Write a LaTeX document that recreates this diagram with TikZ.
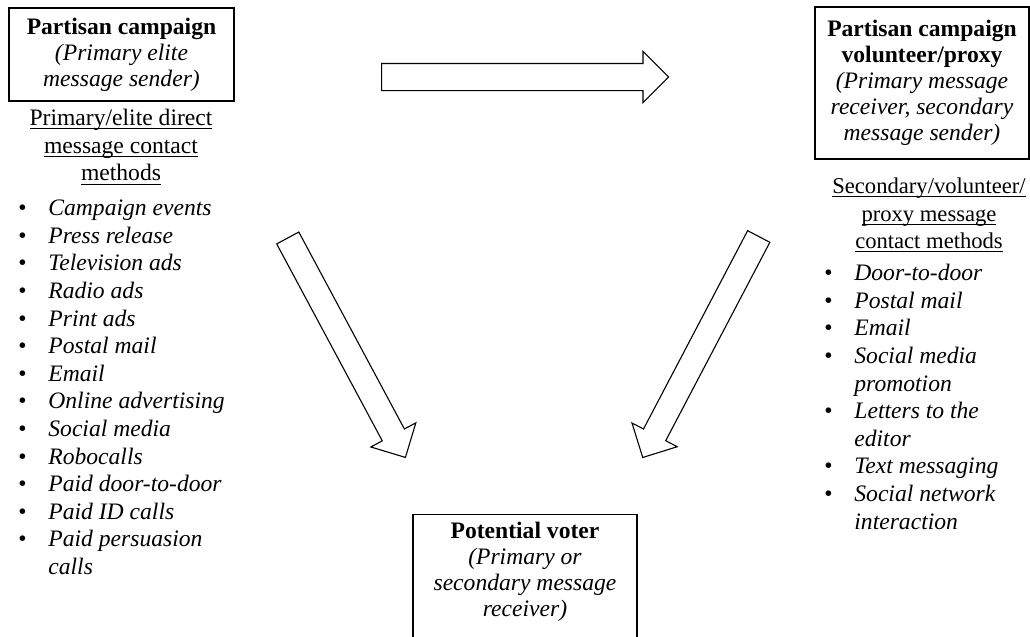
\documentclass[tikz,border=0pt]{standalone}
\usepackage{fontspec}
\setmainfont{Liberation Serif}
\usetikzlibrary{shapes.arrows}
\tikzset{
  actor/.style = {draw, line width=0.55pt, align=center, inner sep=2pt,
                  font=\fontsize{11.8}{13}\selectfont},
  mhead/.style = {align=center, inner sep=0pt, font=\fontsize{11.8}{13.8}\selectfont},
  mlist/.style = {anchor=north west, inner sep=0pt, font=\fontsize{11.8}{13.8}\selectfont},
  blkar/.style = {single arrow, draw, line width=0.55pt, inner xsep=0pt, inner ysep=6.5pt,
                  minimum width=25pt, single arrow head extend=6pt, anchor=tail}
}
\newcommand{\uln}[1]{\setbox0\hbox{#1}\rlap{\rule[-1.8pt]{\wd0}{0.5pt}}\box0}
\newcommand{\itm}[1]{\textbullet & \textit{#1}\\}
\newcommand{\more}[1]{& \textit{#1}\\}

\begin{document}
\begin{tikzpicture}[x=0.5pt, y=-0.5pt]
\useasboundingbox (0,0) rectangle (1030,637);

% senders and receiver
\node[actor, minimum width=112.5pt, minimum height=46.5pt] (campaign) at (121.5,54.5)
      {\textbf{Partisan campaign}\\ \textit{(Primary elite}\\ \textit{message sender)}};
\node[actor, minimum width=107pt, minimum height=76pt] (proxy) at (922,83)
      {\textbf{Partisan campaign}\\ \textbf{volunteer/proxy}\\ \textit{(Primary message}\\
       \textit{receiver, secondary}\\ \textit{message sender)}};
\node[actor, anchor=north, minimum width=112pt, inner ysep=4pt] (voter) at (525,514)
      {\textbf{Potential voter}\\ \textit{(Primary or}\\ \textit{secondary message}\\
       \textit{receiver)}\\[40pt]\mbox{}};

% message flows
\node[blkar, minimum height=143.5pt] (toproxy) at (381,77) {};
\node[blkar, inner ysep=6pt, single arrow head extend=6.5pt, minimum height=124.5pt,
      rotate=-61.8] (elitevoter) at (287.5,237.5) {};
\node[blkar, inner ysep=6pt, single arrow head extend=6.5pt, minimum height=124.8pt,
      rotate=-117.7] (proxyvoter) at (759,236) {};

% contact methods
\node[mhead] (elitehead) at (121,147)
      {\uln{Primary/elite direct}\\ \uln{message contact}\\ \uln{methods}};
\node[mlist] (elitelist) at (18,196)
      {\begin{tabular}{@{}p{15pt}@{}l@{}}
       \itm{Campaign events} \itm{Press release} \itm{Television ads} \itm{Radio ads}
       \itm{Print ads} \itm{Postal mail} \itm{Email} \itm{Online advertising}
       \itm{Social media} \itm{Robocalls} \itm{Paid door-to-door} \itm{Paid ID calls}
       \itm{Paid persuasion} \more{calls}
       \end{tabular}};

\node[mhead, font=\fontsize{11.3}{13.8}\selectfont] (proxyhead) at (929,215)
      {\uln{Secondary/volunteer/}\\ \uln{proxy message}\\ \uln{contact methods}};
\node[mlist] (proxylist) at (824,261)
      {\begin{tabular}{@{}p{15pt}@{}l@{}}
       \itm{Door-to-door} \itm{Postal mail} \itm{Email} \itm{Social media}
       \more{promotion} \itm{Letters to the} \more{editor} \itm{Text messaging}
       \itm{Social network} \more{interaction}
       \end{tabular}};
\end{tikzpicture}
\end{document}
